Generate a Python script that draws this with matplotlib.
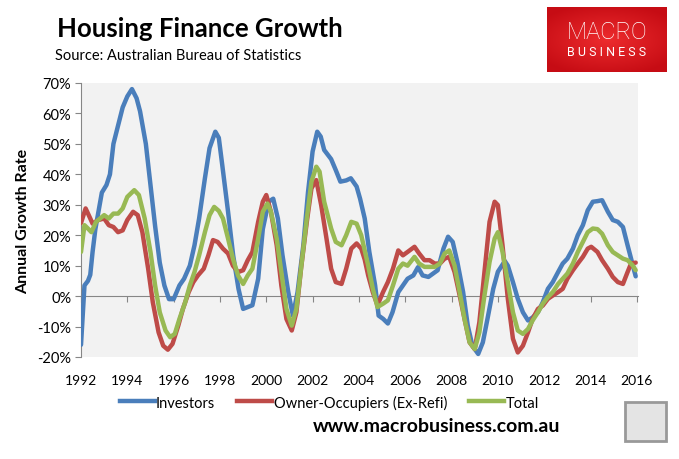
import numpy as np
import matplotlib.pyplot as plt
import matplotlib.transforms as mtransforms
from matplotlib.patches import Rectangle
from matplotlib.lines import Line2D

# series (decimal year, annual growth %)
inv_years = [1992.0, 1992.15, 1992.3, 1992.4, 1992.5, 1992.62, 1992.9, 1993.1, 1993.25, 1993.4,
             1993.6, 1993.8, 1994.0, 1994.2, 1994.4, 1994.55, 1994.8, 1995.0, 1995.2, 1995.4,
             1995.6, 1995.8, 1996.0, 1996.25, 1996.45, 1996.7, 1996.9, 1997.1, 1997.35, 1997.55,
             1997.8, 1997.95, 1998.1, 1998.35, 1998.57, 1998.8, 1999.0, 1999.2, 1999.4, 1999.65,
             1999.85, 2000.1, 2000.3, 2000.5, 2000.7, 2000.95, 2001.15, 2001.35, 2001.6, 2001.8,
             2002.0, 2002.2, 2002.35, 2002.5, 2002.8, 2003.0, 2003.2, 2003.45, 2003.65, 2003.9,
             2004.05, 2004.25, 2004.45, 2004.7, 2004.85, 2005.05, 2005.25, 2005.45, 2005.7, 2005.9,
             2006.1, 2006.35, 2006.55, 2006.75, 2007.0, 2007.2, 2007.4, 2007.65, 2007.85, 2008.05,
             2008.25, 2008.5, 2008.7, 2008.9, 2009.15, 2009.35, 2009.55, 2009.8, 2010.0, 2010.3,
             2010.43, 2010.65, 2010.86, 2011.08, 2011.3, 2011.5, 2011.73, 2011.94, 2012.16, 2012.37,
             2012.6, 2012.8, 2013.0, 2013.24, 2013.45, 2013.67, 2013.88, 2014.1, 2014.3, 2014.5,
             2014.75, 2014.96, 2015.18, 2015.4, 2015.6, 2015.83, 2015.95]
inv_vals = [-16, 3.5, 5, 7, 14.5, 22, 34, 36.5, 40, 50,
            56, 62, 65.6, 68, 65, 60.7, 50, 36.5, 23, 11,
            3.5, -1, -1, 3.5, 5.7, 10, 16.7, 25.5, 38.7, 48.6,
            54, 52, 43, 27.7, 13.4, 2.4, -4.2, -3.6, -3, 5.7,
            22, 31, 32, 25.5, 13.4, 1.3, -6.4, 1.3, 16.7, 34,
            47.5, 54, 52.4, 48, 45, 41.4, 37.6, 38, 38.7, 36,
            32, 25.5, 14.5, 3.5, -6.4, -7.5, -9, -5.3, 1.3, 3.5,
            5.7, 6.8, 9.5, 6.8, 6.3, 7.4, 8.5, 15.6, 19.5, 17.8,
            11.2, 1.3, -9.7, -16.3, -19, -15.2, -7.5, 2.4, 8, 11.5,
            10, 4.6, -0.9, -5.3, -8, -7, -5.3, -2, 2.4, 4.6,
            7.9, 10.7, 12.3, 15.6, 20, 23.3, 28.2, 31, 31.2, 31.5,
            27.7, 25, 24.4, 22.7, 16.7, 10, 6.5]

occ_years = [1992.0, 1992.2, 1992.4, 1992.5, 1992.75, 1993.0, 1993.2, 1993.4, 1993.6, 1993.8,
             1994.0, 1994.25, 1994.45, 1994.65, 1994.9, 1995.1, 1995.35, 1995.55, 1995.75, 1995.95,
             1996.2, 1996.4, 1996.65, 1996.85, 1997.05, 1997.3, 1997.5, 1997.7, 1997.9, 1998.13,
             1998.35, 1998.56, 1998.78, 1999.0, 1999.2, 1999.4, 1999.65, 1999.85, 2000.0, 2000.2,
             2000.45, 2000.65, 2000.87, 2001.1, 2001.3, 2001.5, 2001.75, 2001.95, 2002.16, 2002.37,
             2002.6, 2002.8, 2003.0, 2003.25, 2003.45, 2003.67, 2003.9, 2004.1, 2004.25, 2004.4,
             2004.6, 2004.8, 2005.04, 2005.25, 2005.47, 2005.7, 2005.9, 2006.1, 2006.4, 2006.6,
             2006.83, 2007.05, 2007.27, 2007.5, 2007.7, 2007.9, 2008.13, 2008.35, 2008.56, 2008.78,
             2009.0, 2009.2, 2009.42, 2009.64, 2009.86, 2010.0, 2010.2, 2010.43, 2010.65, 2010.86,
             2011.08, 2011.3, 2011.5, 2011.73, 2011.94, 2012.16, 2012.37, 2012.6, 2012.8, 2013.0,
             2013.24, 2013.45, 2013.67, 2013.88, 2014.03, 2014.3, 2014.5, 2014.75, 2014.96, 2015.18,
             2015.4, 2015.6, 2015.75, 2015.95]
occ_vals = [24, 28.8, 25.5, 23.8, 25, 25.5, 23.3, 22.7, 21, 21.6,
            25, 27.7, 26.6, 21, 9, -2, -11.9, -16.3, -17.6, -15.7,
            -9.7, -4.2, 1.3, 4.6, 6.8, 9, 13.4, 18.4, 17.8, 15.6,
            14, 10, 7.9, 8.5, 11.8, 14.5, 24.4, 31, 33.2, 27.7,
            16.7, 3.5, -7.5, -11.3, -5.3, 9, 24.4, 35.4, 38.1, 29.9,
            18.9, 9, 4.6, 4, 9, 15.6, 17.3, 15.6, 12, 6.8,
            1.3, -3, 1.3, 4.6, 9, 15, 13.4, 14.5, 16.2, 14,
            11.8, 11.8, 10.7, 10.7, 12.3, 12.9, 7.9, 0.2, -7.5, -15.2,
            -17.4, -8.6, 7.9, 24.4, 31, 29.9, 16.7, -0.9, -14, -18.5,
            -16.3, -11.9, -7.5, -4.2, -3.1, -0.9, 0.2, 1.3, 2.4, 5.7,
            8.5, 10.7, 12.9, 15.6, 16.2, 14.5, 11.8, 9, 6.3, 4.6,
            4, 7.9, 10.7, 11]

tot_years = [1992.0, 1992.15, 1992.3, 1992.45, 1992.65, 1993.0, 1993.2, 1993.4, 1993.6, 1993.8,
             1994.0, 1994.3, 1994.5, 1994.75, 1995.0, 1995.2, 1995.4, 1995.65, 1995.85, 1996.05,
             1996.25, 1996.5, 1996.7, 1996.9, 1997.1, 1997.35, 1997.55, 1997.75, 1997.95, 1998.13,
             1998.35, 1998.56, 1998.78, 1999.0, 1999.2, 1999.4, 1999.65, 1999.85, 2000.05, 2000.2,
             2000.45, 2000.65, 2000.87, 2001.1, 2001.3, 2001.5, 2001.75, 2001.95, 2002.16, 2002.3,
             2002.5, 2002.8, 2003.0, 2003.25, 2003.45, 2003.67, 2003.9, 2004.1, 2004.4, 2004.6,
             2004.8, 2005.04, 2005.25, 2005.47, 2005.7, 2005.9, 2006.1, 2006.4, 2006.6, 2006.83,
             2007.05, 2007.27, 2007.5, 2007.7, 2007.9, 2008.13, 2008.35, 2008.56, 2008.78, 2009.0,
             2009.2, 2009.42, 2009.64, 2009.86, 2010.0, 2010.2, 2010.43, 2010.65, 2010.86, 2011.08,
             2011.3, 2011.5, 2011.73, 2011.94, 2012.16, 2012.37, 2012.6, 2012.8, 2013.0, 2013.24,
             2013.45, 2013.67, 2013.88, 2014.1, 2014.3, 2014.5, 2014.75, 2014.96, 2015.18, 2015.4,
             2015.6, 2015.83, 2015.95]
tot_vals = [14.5, 23.3, 22.2, 21, 24.4, 26.6, 25.5, 27.1, 27.1, 28.8,
            32.6, 34.8, 33.2, 25.5, 14.5, 3.5, -5.3, -11.3, -13.5, -12.4,
            -7.5, -2, 3.5, 7.9, 13.4, 21, 26.6, 29.3, 28, 25.5,
            18.9, 12.3, 6.8, 4, 6.8, 9, 18.9, 27.7, 30.4, 27.7,
            18.9, 7.9, -4.2, -9.7, -4.2, 9, 25.5, 37.6, 42.5, 40.9,
            31, 22.2, 17.8, 16.7, 20, 24.4, 23.8, 20, 10, 2.4,
            -3.6, -2.5, -1.4, 3.5, 9, 10.7, 10, 12.9, 10.7, 9.6,
            9.6, 9.6, 10.7, 14, 15, 10, 1.3, -7.5, -15.2, -17.4,
            -11.9, 0.2, 11.2, 18.9, 21, 14.5, 4.6, -5.3, -11.3, -12.4,
            -10.8, -8, -5.3, -2.5, -0.3, 1.3, 4, 5.7, 7.4, 10.7,
            14.5, 17.8, 21, 22.2, 22, 20.5, 16.7, 14.5, 13.4, 12.3,
            11.8, 10, 8.5]

series_names = ["Investors", "Owner-Occupiers (Ex-Refi)", "Total"]
colors = ["#4a7ebb", "#be4b48", "#98b954"]
year_ticks = list(range(1992, 2017, 2))
pct_ticks = list(range(-20, 71, 10))

plt.rcParams['font.family'] = ['Lato', 'DejaVu Sans']

fig = plt.figure(figsize=(6.79, 4.60), dpi=100)
ax = fig.add_axes([81/679, 1 - 358/460, (638-81)/679, (358-84)/460])
ax.set_facecolor("#f2f2f2")

for xs, ys, c in zip([inv_years, occ_years, tot_years], [inv_vals, occ_vals, tot_vals], colors):
    ax.plot(xs, ys, color=c, lw=3.2, solid_joinstyle="round", solid_capstyle="round", zorder=3)

ax.set_xlim(1992, 2016.05)
ax.set_ylim(-20, 70)
ax.set_yticks(pct_ticks)
ax.set_yticklabels([f"{v}%" for v in pct_ticks], fontsize=10.5)
ax.tick_params(axis="y", length=4, color="#868686", pad=3)

# category axis crosses at 0, labels stay at the bottom
ax.spines["bottom"].set_position(("data", 0))
ax.spines["bottom"].set_color("#868686")
ax.spines["left"].set_color("#868686")
ax.spines["top"].set_visible(False)
ax.spines["right"].set_visible(False)
ax.set_xticks(year_ticks)
ax.tick_params(axis="x", length=4, color="#868686", labelbottom=False)
trans = mtransforms.blended_transform_factory(ax.transData, ax.transAxes)
for yr in year_ticks:
    ax.text(yr, -0.085, str(yr), transform=trans, ha="center", va="center", fontsize=10)

ax.set_ylabel("Annual Growth Rate", fontsize=11.5, fontweight="bold", labelpad=5)

# titles
fig.text(57/679, 1 - 29/460, "Housing Finance Growth", fontsize=18.5, fontweight="bold", va="center")
fig.text(55/679, 1 - 56/460, "Source: Australian Bureau of Statistics", fontsize=10.5, va="center")

# logo
lax = fig.add_axes([547/679, 1 - 73/460, 120/679, 65/460])
gx, gy = np.meshgrid(np.linspace(-1, 1, 120), np.linspace(-1, 1, 65))
r = np.clip(np.sqrt(gx**2 * 0.6 + gy**2 * 0.8), 0, 1)
c0 = np.array([0.93, 0.17, 0.18])
c1 = np.array([0.78, 0.05, 0.08])
img = c0[None, None, :] * (1 - r[..., None]) + c1[None, None, :] * r[..., None]
lax.imshow(img, extent=[0, 1, 0, 1], aspect="auto")
lax.set_xlim(0, 1)
lax.set_ylim(0, 1)
lax.axis("off")
lax.text(0.5, 0.62, "MACRO", color="white", fontsize=17, ha="center", va="center",
         family=["Roboto", "DejaVu Sans"], fontweight="light")
lax.text(0.5, 0.32, "B U S I N E S S", color="white", fontsize=9, ha="center", va="center",
         family=["Roboto", "DejaVu Sans"])

# legend
handles = [Line2D([0], [0], color=c, lw=3.2) for c in colors]
fig.legend(handles, series_names, loc="center", bbox_to_anchor=(329/679, 1 - 403/460), ncol=3,
           frameon=False, fontsize=10.5, handlelength=2.4, handletextpad=0.1, columnspacing=1.5)

fig.text(437/679, 1 - 427/460, "www.macrobusiness.com.au", fontsize=14, fontweight="bold",
         ha="center", va="center")

# wolf badge placeholder
wax = fig.add_axes([623/679, 1 - 444/460, 45/679, 43/460])
wax.set_xlim(0, 1)
wax.set_ylim(0, 1)
wax.add_patch(Rectangle((0.04, 0.04), 0.92, 0.92, facecolor="#e4e4e4", edgecolor="#999999", lw=2))
wax.axis("off")

fig.savefig("out.png", dpi=100)
